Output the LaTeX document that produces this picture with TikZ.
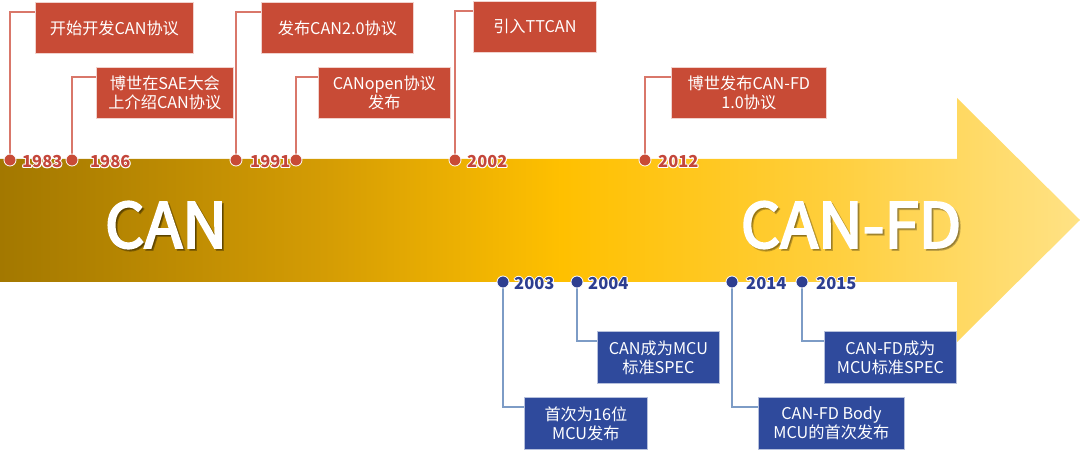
\documentclass[tikz,border=0pt]{standalone}
\usepackage{fontspec}
\setmainfont{Noto Sans CJK SC}
\newfontfamily\bigfont{Noto Sans CJK SC}[FakeBold=3.5]
\definecolor{boxred}{HTML}{C84B36}
\definecolor{linered}{HTML}{D9776A}
\definecolor{boxblue}{HTML}{2F4A9C}
\definecolor{lineblue}{HTML}{7D9CC6}
\definecolor{dotblue}{HTML}{2D3E90}
\definecolor{yearred}{HTML}{C4463A}
\definecolor{golddark}{HTML}{A37800}
\definecolor{goldtwo}{HTML}{D49C04}
\definecolor{goldmid}{HTML}{FFC000}
\definecolor{goldfour}{HTML}{FFCE3A}
\definecolor{goldlight}{HTML}{FFE285}
\pgfdeclarehorizontalshading{arrowshade}{100bp}{color(0bp)=(golddark); color(25bp)=(golddark); color(40bp)=(goldtwo); color(51bp)=(goldmid); color(63bp)=(goldfour); color(75bp)=(goldlight); color(100bp)=(goldlight)}
\tikzset{
  rbox/.style={fill=boxred, draw=white!75!boxred, line width=0.8pt, text=white,
    font=\fontsize{16.2}{19}\selectfont, align=center, anchor=north west, inner sep=0pt},
  bbox/.style={rbox, fill=boxblue, draw=white!65!boxblue},
  rdot/.style={circle, fill=boxred, draw=white, line width=0.8pt, minimum size=12pt, inner sep=0pt},
  bdot/.style={rdot, fill=dotblue},
  rline/.style={draw=linered, line width=1.6pt},
  bline/.style={draw=lineblue, line width=1.6pt},
  yearlab/.style={font=\fontsize{16.5}{16}\bfseries\selectfont, anchor=west, inner sep=0pt},
  bigtxt/.style={text=white, font=\bigfont\fontsize{62}{62}\selectfont, inner sep=0pt},
}
\newcommand{\yearnode}[5]{% color, name, x, y, text
  \foreach \dx/\dy in {-1/0,1/0,0/-1,0/1,-0.8/-0.8,0.8/0.8,-0.8/0.8,0.8/-0.8}
    {\node[yearlab, text=white] at ([shift={(\dx,\dy)}]#3,#4) {#5};}
  \node[yearlab, text=#1] (#2) at (#3,#4) {#5};
}
\begin{document}
\begin{tikzpicture}[x=1pt, y=-1pt]
\useasboundingbox (0,0) rectangle (1080,454);
% arrow
\shade[shading=arrowshade]
  (0,159) -- (957,159) -- (957,98) -- (1080,220) -- (957,342) -- (957,282) -- (0,282) -- cycle;
% big texts
\node[bigtxt, text=black, opacity=0.3] at (168,227) {CAN};
\node[bigtxt] (can) at (166,225) {CAN};
\node[bigtxt, text=black, opacity=0.25] at (853,227) {CAN-FD};
\node[bigtxt] (canfd) at (851,225) {CAN-FD};

% red boxes
\node[rbox, minimum width=158pt, minimum height=51pt] (b1) at (35,2) {开始开发CAN协议};
\node[rbox, minimum width=137pt, minimum height=51pt] (b2) at (96,67) {博世在SAE大会\\上介绍CAN协议};
\node[rbox, minimum width=152pt, minimum height=51pt] (b3) at (261,2) {发布CAN2.0协议};
\node[rbox, minimum width=132pt, minimum height=51pt] (b4) at (318,67) {CANopen协议\\发布};
\node[rbox, minimum width=123pt, minimum height=51pt] (b5) at (473,1) {引入TTCAN};
\node[rbox, minimum width=155pt, minimum height=51pt] (b6) at (671,67) {博世发布CAN-FD\\1.0协议};

% blue boxes
\node[bbox, minimum width=123pt, minimum height=52pt] (b7) at (524,397) {首次为16位\\MCU发布};
\node[bbox, minimum width=122pt, minimum height=52pt] (b8) at (597,331) {CAN成为MCU\\标准SPEC};
\node[bbox, minimum width=146pt, minimum height=52pt] (b9) at (758,397) {CAN-FD Body\\MCU的首次发布};
\node[bbox, minimum width=132pt, minimum height=52pt] (b10) at (824,331) {CAN-FD成为\\MCU标准SPEC};

% red dots
\coordinate (p1) at (10,160);
\coordinate (p2) at (72,160);
\coordinate (p3) at (236,160);
\coordinate (p4) at (296,160);
\coordinate (p5) at (455,160);
\coordinate (p6) at (645,160);
% blue dots
\coordinate (p7) at (503,282);
\coordinate (p8) at (577,282);
\coordinate (p9) at (732,282);
\coordinate (p10) at (802,282);

% connectors
\foreach \i in {1,...,6}
  \draw[rline] (p\i) |- ([yshift=-10pt]b\i.north west);
\foreach \i in {7,...,10}
  \draw[bline] (p\i) |- ([yshift=-10pt]b\i.north west);

\foreach \i in {1,...,6}
  \node[rdot] (d\i) at (p\i) {};
\foreach \i in {7,...,10}
  \node[bdot] (d\i) at (p\i) {};

% years
\yearnode{yearred}{y1}{22}{162}{1983}
\yearnode{yearred}{y2}{90}{162}{1986}
\yearnode{yearred}{y3}{250}{162}{1991}
\yearnode{yearred}{y4}{467}{162}{2002}
\yearnode{yearred}{y5}{658}{162}{2012}
\yearnode{dotblue}{y7}{514}{284}{2003}
\yearnode{dotblue}{y8}{588}{284}{2004}
\yearnode{dotblue}{y9}{746}{284}{2014}
\yearnode{dotblue}{y10}{816}{284}{2015}
\end{tikzpicture}
\end{document}
